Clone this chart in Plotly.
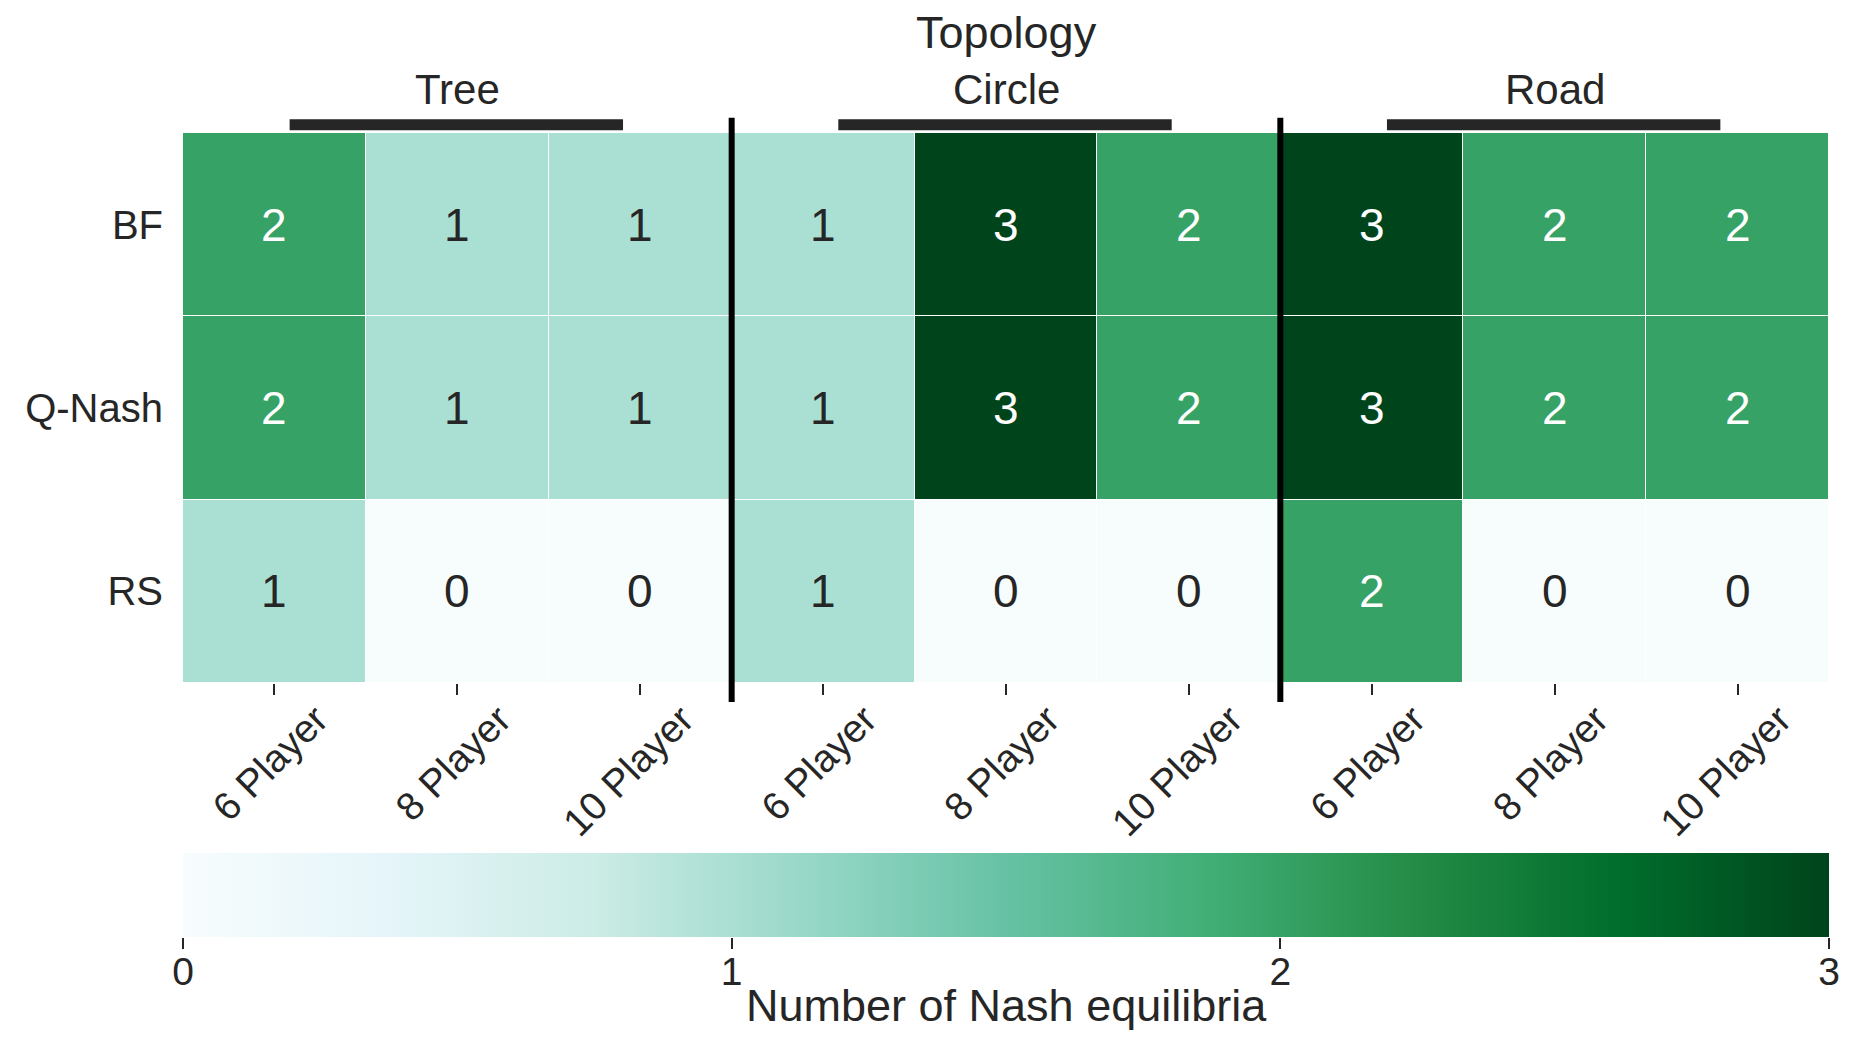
import plotly.graph_objects as go

# ---- data ----
methods = ["BF", "Q-Nash", "RS"]
topologies = ["Tree", "Circle", "Road"]
players = ["6 Player", "8 Player", "10 Player"]
bf_values = [2, 1, 1, 1, 3, 2, 3, 2, 2]
qnash_values = [2, 1, 1, 1, 3, 2, 3, 2, 2]
rs_values = [1, 0, 0, 1, 0, 0, 2, 0, 0]
cbar_ticks = [0, 1, 2, 3]

z = [bf_values, qnash_values, rs_values]
col_labels = players * len(topologies)
n_cols = len(col_labels)
x_idx = list(range(n_cols))
y_idx = list(range(len(methods)))
zmin, zmax = cbar_ticks[0], cbar_ticks[-1]

bugn = [
    [0.0, "#f7fcfd"], [0.125, "#e5f5f9"], [0.25, "#ccece6"], [0.375, "#99d8c9"],
    [0.5, "#66c2a4"], [0.625, "#41ae76"], [0.75, "#238b45"], [0.875, "#006d2c"],
    [1.0, "#00441b"],
]

FONT = "Liberation Sans, Arial, sans-serif"
DARK = "#262626"
W, H = 1853, 1049
ML, MR, MT, MB = 183.3, 24, 133.3, 20
plot_h = H - MT - MB
plot_w = W - ML - MR
plot_bottom = H - MB
HEAT_BOTTOM = 683.0      # pixel row of the heatmap's lower edge
CBAR_TOP, CBAR_BOTTOM = 852.7, 936.7


def py(px):
    """pixel row (from top of page) -> paper y"""
    return (plot_bottom - px) / plot_h


fig = go.Figure()
fig.add_trace(go.Heatmap(
    z=z, x=x_idx, y=y_idx, colorscale=bugn, zmin=zmin, zmax=zmax,
    xgap=1, ygap=1, hoverinfo="skip",
    colorbar=dict(
        orientation="h", thickness=CBAR_BOTTOM - CBAR_TOP, len=plot_w, lenmode="pixels",
        x=0.5, xanchor="center", y=py(CBAR_TOP), yanchor="top",
        xpad=0, ypad=0, outlinewidth=0,
        tickvals=cbar_ticks, ticks="", showticklabels=False,
    ),
))
# colour-bar value axis (same span as the colour bar)
fig.add_trace(go.Scatter(
    x=cbar_ticks, y=[None] * len(cbar_ticks), xaxis="x2", yaxis="y",
    mode="markers", showlegend=False, hoverinfo="skip",
))

annotations = []
for r, row in enumerate(z):
    for c, v in enumerate(row):
        annotations.append(dict(
            x=c, y=r, xref="x", yref="y", text=str(v), showarrow=False,
            font=dict(family=FONT, size=46, color="white" if v >= 2 else DARK),
        ))

shapes = []
for g, name in enumerate(topologies):
    center = g * 3 + 1
    annotations.append(dict(
        x=center, y=py(90), xref="x", yref="paper", text=name,
        showarrow=False, yanchor="middle",
        font=dict(family=FONT, size=42, color=DARK),
    ))
    shapes.append(dict(
        type="line", xref="x", yref="paper", x0=center - 0.917, x1=center + 0.906,
        y0=py(125), y1=py(125), line=dict(color=DARK, width=11),
    ))
    if g > 0:
        shapes.append(dict(
            type="line", xref="x", yref="paper", x0=g * 3 - 0.5, x1=g * 3 - 0.5,
            y0=py(118), y1=py(702), line=dict(color="black", width=6),
        ))

annotations.append(dict(
    x=0.5, y=py(33), xref="paper", yref="paper", text="Topology",
    showarrow=False, yanchor="middle", font=dict(family=FONT, size=45, color=DARK),
))
annotations.append(dict(
    x=0.5, y=py(1006), xref="paper", yref="paper", text="Number of Nash equilibria",
    showarrow=False, yanchor="middle", font=dict(family=FONT, size=45, color=DARK),
))

fig.update_layout(
    width=W, height=H,
    margin=dict(l=ML, r=MR, t=MT, b=MB, pad=0),
    paper_bgcolor="white", plot_bgcolor="rgba(0,0,0,0)",
    font=dict(family=FONT, color=DARK),
    annotations=annotations, shapes=shapes,
    xaxis=dict(
        domain=[0, 1],
        range=[-0.5, n_cols - 0.5], tickvals=x_idx, ticktext=col_labels,
        tickangle=-45, ticks="outside", ticklen=11, tickwidth=2, tickcolor=DARK,
        tickfont=dict(family=FONT, size=39, color=DARK),
        showgrid=False, zeroline=False, showline=False, fixedrange=True,
        ticklabelshift=42, ticklabelstandoff=-14,
    ),
    yaxis=dict(
        domain=[py(HEAT_BOTTOM), 1],
        range=[len(methods) - 0.5, -0.5], tickvals=y_idx, ticktext=methods,
        ticks="outside", ticklen=11, tickcolor="rgba(0,0,0,0)",
        tickfont=dict(family=FONT, size=40, color=DARK),
        showgrid=False, zeroline=False, showline=False, fixedrange=True,
    ),
    xaxis2=dict(
        overlaying="x", anchor="free", position=py(CBAR_BOTTOM), side="bottom",
        range=[zmin, zmax], tickvals=cbar_ticks,
        ticks="outside", ticklen=11, tickwidth=2, tickcolor=DARK,
        tickfont=dict(family=FONT, size=39, color=DARK),
        showgrid=False, zeroline=False, showline=False, fixedrange=True,
        ticklabelstandoff=-10,
    ),
)

fig.write_html("out.html")
